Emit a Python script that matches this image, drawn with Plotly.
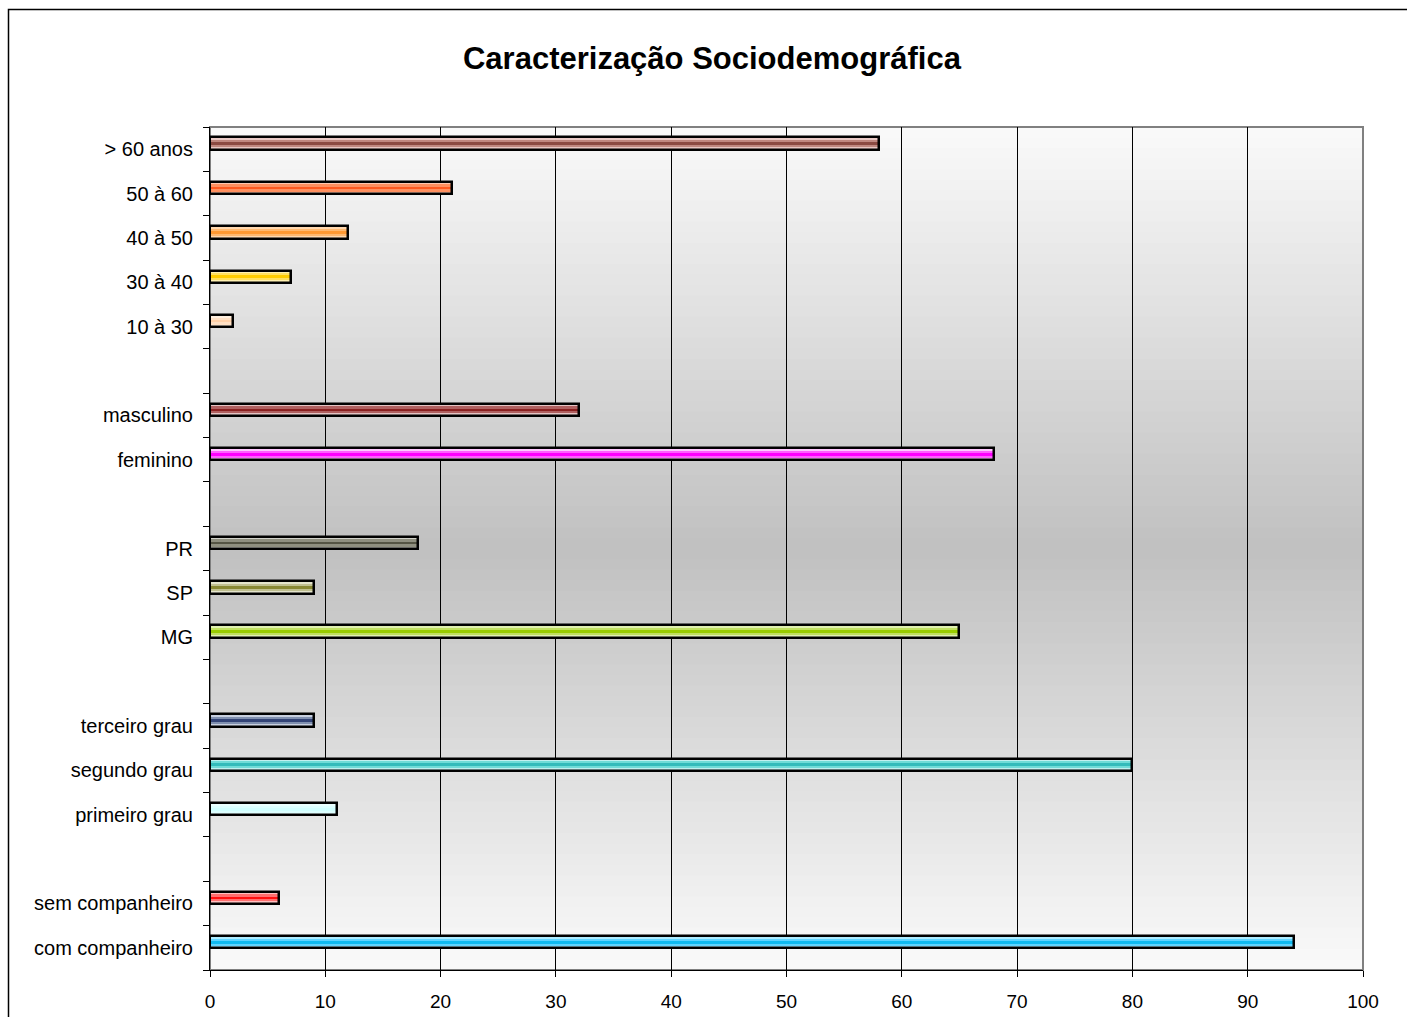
import plotly.graph_objects as go

# ---- data (bottom to top) ----
categories = ["com companheiro", "sem companheiro", " ",
              "primeiro grau", "segundo grau", "terceiro grau", "  ",
              "MG", "SP", "PR", "   ",
              "feminino", "masculino", "    ",
              "10 à 30", "30 à 40", "40 à 50", "50 à 60", "> 60 anos"]
values = [94, 6, None,
          11, 80, 9, None,
          65, 9, 18, None,
          68, 32, None,
          2, 7, 12, 21, 58]

light_colors = ["#b0ecff", "#ffc0c0", "#ffffff",
                "#eaffff", "#c0f0f0", "#c8d0e0", "#ffffff",
                "#e0f0b0", "#e4e4cc", "#d0d0c8", "#ffffff",
                "#ffc8ff", "#e4c4c4", "#ffffff",
                "#fff0e0", "#fff0b0", "#ffd8b0", "#ffc8b0", "#e8c8c4"]
mid_colors = ["#60d4ff", "#ff7070", "#ffffff",
              "#dcffff", "#70dcd8", "#8090b0", "#ffffff",
              "#c0e060", "#c0c090", "#909080", "#ffffff",
              "#ff60ff", "#b06060", "#ffffff",
              "#ffe0c4", "#ffe060", "#ffb870", "#ff9060", "#c08880"]
dark_colors = ["#10baf0", "#ff1010", "#ffffff",
               "#d0ffff", "#33bbbb", "#334477", "#ffffff",
               "#99cc00", "#888833", "#555544", "#ffffff",
               "#ff00ff", "#8b2020", "#ffffff",
               "#ffd0a8", "#ffcc00", "#ff9933", "#ff5a20", "#8b4a42"]

x_ticks = list(range(0, 101, 10))

SHIFT = 0.125  # bars sit slightly above the category centre


def bar(width, color, line):
    return go.Bar(y=categories, x=values, orientation="h", width=width,
                  offset=-width / 2 + SHIFT,
                  marker=dict(color=color, line=line),
                  hoverinfo="skip", showlegend=False)


fig = go.Figure()
fig.add_trace(bar(0.28, light_colors, dict(width=0)))
fig.add_trace(bar(0.16, mid_colors, dict(width=0)))
fig.add_trace(bar(0.06, dark_colors, dict(width=0)))
fig.add_trace(bar(0.28, "rgba(0,0,0,0)", dict(width=2.5, color="black")))

# background gradient (white -> gray -> white)
shapes = []
n = 80
for i in range(n):
    t = (i + 0.5) / n
    d = abs(t - 0.5) * 2  # 0 at middle, 1 at edges
    g = int(round(192 + (250 - 192) * d))
    shapes.append(dict(type="rect", xref="paper", yref="paper",
                       x0=0, x1=1, y0=i / n, y1=(i + 1) / n + 0.001,
                       fillcolor=f"rgb({g},{g},{g})", line=dict(width=0),
                       layer="below"))
# plot area border (gray)
shapes.append(dict(type="rect", xref="paper", yref="paper", x0=0, x1=1, y0=0, y1=1,
                   line=dict(color="#808080", width=2), fillcolor="rgba(0,0,0,0)",
                   layer="below"))
# outer chart frame
shapes.append(dict(type="rect", xref="paper", yref="paper",
                   x0=(8.5 - 210) / 1153, x1=(1420 - 210) / 1153,
                   y0=(970 - 1030) / 843, y1=(970 - 9.5) / 843,
                   line=dict(color="black", width=1.5), fillcolor="rgba(0,0,0,0)",
                   layer="above"))

fig.update_layout(
    width=1407, height=1017,
    margin=dict(l=210, r=44, t=127, b=47, autoexpand=False),
    paper_bgcolor="white", plot_bgcolor="white",
    barmode="overlay",
    bargap=0,
    font=dict(family="Liberation Sans, Arial, sans-serif", size=20, color="black"),
    title=dict(text="<b>Caracterização Sociodemográfica</b>",
               x=0.506, xanchor="center", y=0.943, yanchor="middle",
               font=dict(size=31, color="black")),
    shapes=shapes,
    xaxis=dict(range=[0, 100], tickvals=x_ticks, showgrid=True, gridcolor="black",
               gridwidth=1, zeroline=False, showline=True, linecolor="black",
               linewidth=1, ticks="outside", ticklen=6, tickcolor="black",
               tickfont=dict(size=19), ticklabelstandoff=8, automargin=False,
               fixedrange=True),
    yaxis=dict(type="category", categoryorder="array", categoryarray=categories,
               range=[-0.5, len(categories) - 0.5], showgrid=False, zeroline=False,
               showline=True, linecolor="black", linewidth=1,
               ticks="outside", ticklen=6, tickcolor="black", tickson="boundaries",
               tickfont=dict(size=20), ticklabelstandoff=12, automargin=False,
               fixedrange=True),
)

fig.write_html("out.html")
